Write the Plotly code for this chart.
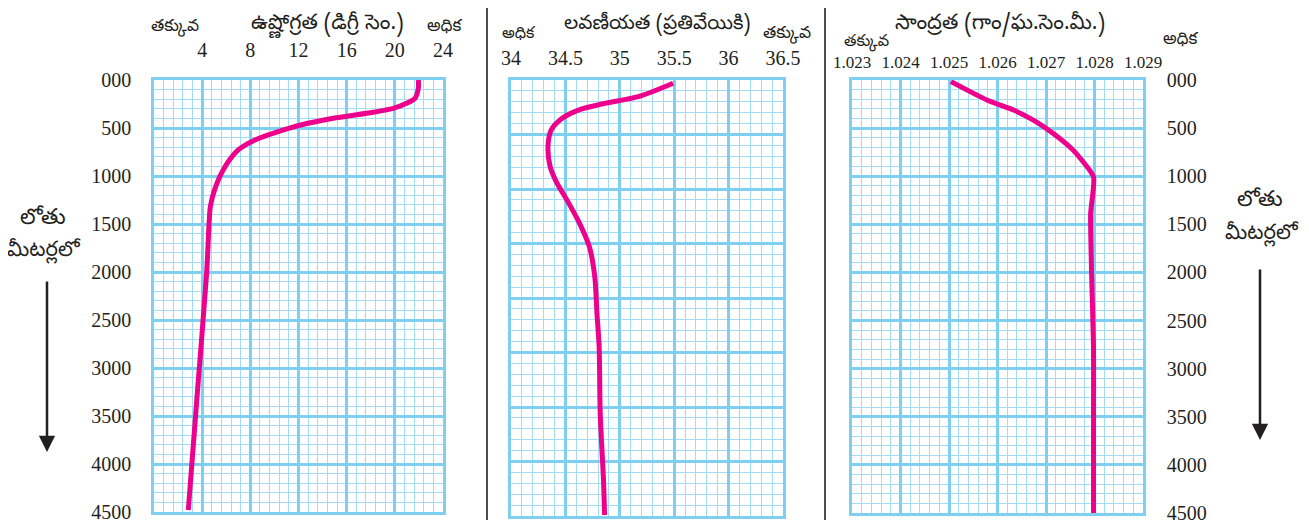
import plotly.graph_objects as go

# The page body has an 8px margin, so the figure is drawn 8px in from the corner.
OFF = 8
W, H = 1309, 528
FW, FH = W - OFF, H - OFF

# ---- data ----
depth_ticks = [0, 500, 1000, 1500, 2000, 2500, 3000, 3500, 4000, 4500]
depth_labels = ["000", "500", "1000", "1500", "2000", "2500", "3000", "3500", "4000", "4500"]

temp_ticks = [0, 4, 8, 12, 16, 20, 24]
temp_labels = ["", "4", "8", "12", "16", "20", "24"]
temp_depth = [0, 87, 191, 243, 295, 347, 399, 469, 538, 625, 729, 903, 1128, 1319, 1480, 2014, 3240, 4479]
temp_vals = [21.95, 21.95, 21.67, 20.98, 19.87, 17.66, 14.89, 12.2, 10.32, 8.39, 7.0, 5.9, 5.07, 4.68, 4.58, 4.37, 3.61, 2.85]

sal_ticks = [34, 34.5, 35, 35.5, 36, 36.5]
sal_labels = ["34", "34.5", "35", "35.5", "36", "36.5"]
sal_depth = [34, 172, 241, 310, 395, 516, 688, 895, 1060, 1250, 1479, 1720, 2030, 2408, 2752, 3440, 4128, 4490]
sal_vals = [35.49, 35.17, 34.86, 34.62, 34.47, 34.37, 34.34, 34.36, 34.42, 34.52, 34.63, 34.72, 34.77, 34.79, 34.81, 34.82, 34.85, 34.86]

den_ticks = [1.023, 1.024, 1.025, 1.026, 1.027, 1.028, 1.029]
den_labels = ["1.023", "1.024", "1.025", "1.026", "1.027", "1.028", "1.029"]
den_depth = [17, 208, 312, 417, 555, 729, 1007, 1389, 2014, 2778, 3472, 4500]
den_vals = [1.02504, 1.02578, 1.02633, 1.02674, 1.02715, 1.02756, 1.02798, 1.02792, 1.02794, 1.02798, 1.02798, 1.02798]

# ---- styles ----
MAG = "#EC008C"
GMAJ = "#7fcff0"
GMIN = "#a2dcf5"
NUMFONT = "Liberation Serif, DejaVu Serif, serif"
TELFONT = "Noto Sans Telugu, Noto Sans, sans-serif"


def px(x):
    return (x - OFF) / FW


def py(y):
    return 1 - (y - OFF) / FH


fig = go.Figure()
fig.add_trace(go.Scatter(x=temp_vals, y=temp_depth, xaxis="x", yaxis="y", mode="lines",
                         line=dict(color=MAG, width=5, shape="spline", smoothing=0.8), hoverinfo="skip"))
fig.add_trace(go.Scatter(x=sal_vals, y=sal_depth, xaxis="x2", yaxis="y2", mode="lines",
                         line=dict(color=MAG, width=5, shape="spline", smoothing=0.8), hoverinfo="skip"))
fig.add_trace(go.Scatter(x=den_vals, y=den_depth, xaxis="x3", yaxis="y3", mode="lines",
                         line=dict(color=MAG, width=5, shape="spline", smoothing=0.5), hoverinfo="skip"))


def xax(domain, rng, tv, tt, mdt, anchor, size, tlen):
    return dict(domain=domain, range=rng, side="top", anchor=anchor, automargin=False,
                tickmode="array", tickvals=tv, ticktext=tt,
                ticks="outside", ticklen=tlen, tickcolor="rgba(0,0,0,0)",
                tickfont=dict(family=NUMFONT, size=size, color="#231f20"),
                showgrid=True, gridcolor=GMAJ, gridwidth=2.5,
                minor=dict(tickmode="linear", tick0=rng[0], dtick=mdt, showgrid=True,
                           gridcolor=GMIN, gridwidth=1.3),
                zeroline=False, showline=True, mirror=True, linecolor=GMAJ, linewidth=2.5,
                fixedrange=True)


def yax(domain, anchor, tv, tt, mdt, show, side="left", tlen=12):
    return dict(domain=domain, range=[4500, 0], anchor=anchor, side=side, automargin=False,
                tickmode="array", tickvals=tv, ticktext=tt, showticklabels=show,
                ticks="outside" if show else "", ticklen=tlen, tickcolor="rgba(0,0,0,0)",
                tickfont=dict(family=NUMFONT, size=20, color="#231f20"),
                showgrid=True, gridcolor=GMAJ, gridwidth=2.5,
                minor=dict(tickmode="linear", tick0=0, dtick=mdt, showgrid=True,
                           gridcolor=GMIN, gridwidth=1.3),
                zeroline=False, showline=True, mirror=True, linecolor=GMAJ, linewidth=2.5,
                fixedrange=True)


sal_grid = [i * 562.5 for i in range(9)]

fig.update_layout(
    width=FW, height=FH, margin=dict(l=0, r=0, t=0, b=0, autoexpand=False),
    paper_bgcolor="white", plot_bgcolor="white", showlegend=False,
    xaxis=xax([px(154), px(443)], [0, 24], temp_ticks, temp_labels, 0.8, "y", 20, 12),
    yaxis=yax([py(512), py(80)], "x", depth_ticks, depth_labels, 100, True, "left", 16),
    xaxis2=xax([px(511), px(783)], [34, 36.5], sal_ticks, sal_labels, 0.1, "y2", 20, 4),
    yaxis2=yax([py(516), py(80)], "x2", sal_grid, [""] * 9, 112.5, False),
    xaxis3=xax([px(852), px(1143)], [1.023, 1.029], den_ticks, den_labels, 0.0002, "y3", 17, 2),
    yaxis3=yax([py(513), py(80)], "x3", depth_ticks, depth_labels, 100, True, "right", 17),
)


def txt(x, y, s, size, font=TELFONT):
    fig.add_annotation(x=px(x), y=py(y), xref="paper", yref="paper", text=s, showarrow=False,
                       font=dict(family=font, size=size, color="#231f20"),
                       xanchor="center", yanchor="middle")


txt(327, 25, "ఉష్ణోగ్రత (డిగ్రీ సెం.)", 21)
txt(175, 28, "తక్కువ", 17)
txt(445, 28, "అధిక", 17)
txt(657, 25, "లవణీయత (ప్రతివేయికి)", 20)
txt(519, 35, "అధిక", 16)
txt(787, 34, "తక్కువ", 17)
txt(1000, 25, "సాంద్రత (గాం/ఘ.సెం.మీ.)", 21)
txt(866, 43, "తక్కువ", 16)
txt(1181, 40, "అధిక", 17)
txt(43, 220, "లోతు", 22)
txt(44, 252, "మీటర్లలో", 21)
txt(1260, 202, "లోతు", 22)
txt(1262, 235, "మీటర్లలో", 21)

# arrows
for xa, y0, y1 in [(47, 280, 452), (1260, 268, 440)]:
    fig.add_annotation(x=px(xa), y=py(y1), xref="paper", yref="paper",
                       ax=0, ay=-(y1 - y0), axref="pixel", ayref="pixel",
                       showarrow=True, arrowhead=2, arrowsize=1.3, arrowwidth=2.5,
                       arrowcolor="#231f20", text="")

# separators
for xs in (487, 825):
    fig.add_shape(type="line", xref="paper", yref="paper", x0=px(xs), x1=px(xs),
                  y0=py(520), y1=py(8), line=dict(color="#4d4d4d", width=2))

fig.write_html("out.html")
